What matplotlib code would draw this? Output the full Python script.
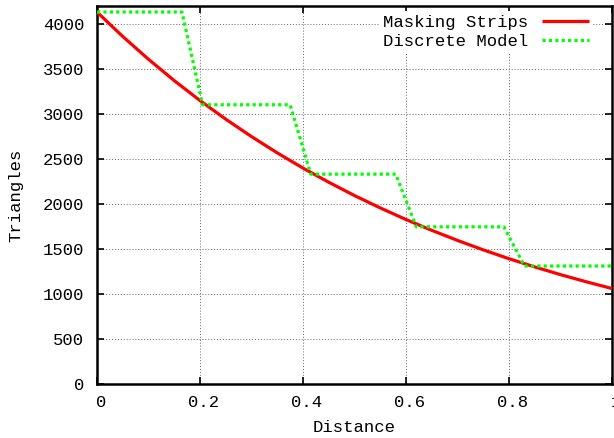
import matplotlib
matplotlib.use("Agg")
import matplotlib.pyplot as plt
from matplotlib.transforms import ScaledTranslation

# Masking Strips (continuous curve)
strip_x = [0.0, 0.05, 0.1, 0.15, 0.2, 0.25, 0.3, 0.35, 0.4, 0.45, 0.5,
           0.55, 0.6, 0.65, 0.7, 0.75, 0.8, 0.85, 0.9, 0.95, 1.0]
strip_y = [4130, 3858, 3605, 3368, 3147, 2940, 2747, 2566, 2397, 2240, 2092,
           1955, 1826, 1706, 1594, 1489, 1391, 1300, 1214, 1135, 1060]

# Discrete Model (stepped)
disc_x = [0.0, 0.165, 0.205, 0.375, 0.415, 0.58, 0.62, 0.79, 0.83, 1.0]
disc_y = [4130, 4130, 3100, 3100, 2330, 2330, 1745, 1745, 1310, 1310]

xticks = [0, 0.2, 0.4, 0.6, 0.8, 1]
xticklabels = ["0", "0.2", "0.4", "0.6", "0.8", "1"]
yticks = [0, 500, 1000, 1500, 2000, 2500, 3000, 3500, 4000]

plt.rcParams['font.family'] = ['Liberation Mono', 'DejaVu Sans Mono']

FS = 12.4
fig = plt.figure(figsize=(6.14, 4.38), dpi=100)
ax = fig.add_axes([97/614, 1 - 384/438, (612-97)/614, (384-5.7)/438])

ax.plot(strip_x, strip_y, color='#ff0000', lw=2.3, label='Masking Strips',
        solid_capstyle='butt', zorder=3)
ax.plot(disc_x, disc_y, color='#00ff00', lw=2.3, linestyle=(0, (1, 1)),
        label='Discrete Model', zorder=4)

ax.set_xlim(0, 1)
ax.set_ylim(0, 4200)
ax.set_xticks(xticks)
ax.set_xticklabels(xticklabels)
ax.set_yticks(yticks)
ax.grid(True, color='#666666', linestyle=(0, (1, 2)), lw=0.7)
ax.tick_params(direction='in', top=True, right=True, length=5, width=1.2,
               labelsize=FS)
ax.tick_params(axis='x', pad=8)
ax.tick_params(axis='y', pad=9)
for s in ax.spines.values():
    s.set_linewidth(1.8)

off = ScaledTranslation(4/100, 0, fig.dpi_scale_trans)
for lab in ax.get_xticklabels():
    lab.set_transform(lab.get_transform() + off)

ax.set_xlabel('Distance', fontsize=FS, labelpad=7)
ax.set_ylabel('Triangles', fontsize=FS, labelpad=14)

leg = ax.legend(loc='upper right', bbox_to_anchor=(0.962, 0.985),
                markerfirst=False, frameon=True,
                fontsize=FS, handlelength=2.75, handletextpad=0.75,
                borderaxespad=0.0, labelspacing=0.25, borderpad=0.2,
                fancybox=False)
leg.get_frame().set_edgecolor('none')
leg.get_frame().set_facecolor('white')
leg.get_frame().set_alpha(1)
for t in leg.get_texts():
    t.set_ha('right')

fig.savefig('out.png', dpi=100)
